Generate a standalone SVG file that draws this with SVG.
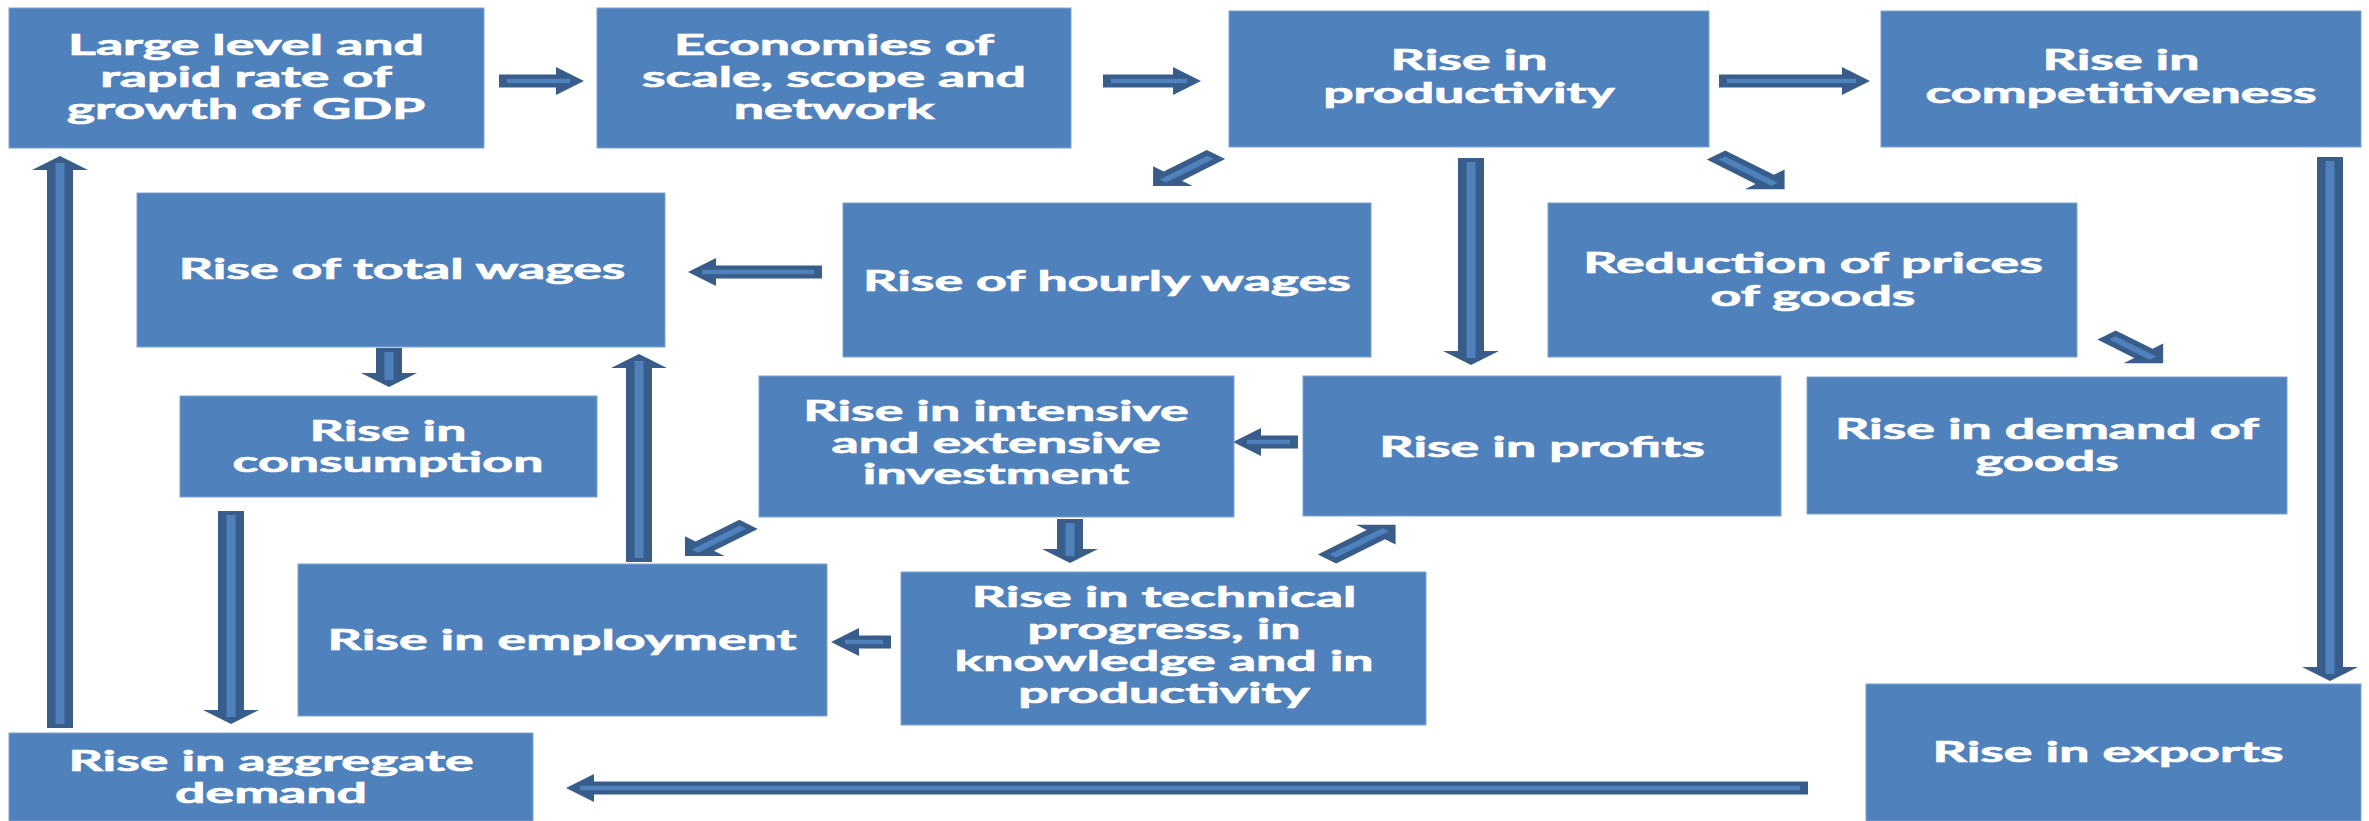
<svg xmlns="http://www.w3.org/2000/svg" width="2369" height="821" viewBox="0 0 2369 821">
<style>
.b{fill:#4F81BD;stroke:#7FA2CF;stroke-width:1}
.t{font-family:Lato,"DejaVu Sans",sans-serif;font-weight:700;font-size:29px;fill:#FFFFFF;stroke:#FFFFFF;stroke-width:0.7;text-anchor:middle}
.ad{fill:#385D8A}
.al{fill:#4F81BD}
</style>
<rect x="0" y="0" width="2369" height="821" fill="#FFFFFF"/>
<g id="connectors">
<g transform="scale(2,1) translate(249.5,81)"><polygon class="ad" points="0,-6.5 28.5,-6.5 28.5,-14 42.5,0 28.5,14 28.5,6.5 0,6.5"/><rect class="al" x="4" y="-2.25" width="31.5" height="4.5"/></g>
<g transform="scale(2,1) translate(551.5,81)"><polygon class="ad" points="0,-6.5 35,-6.5 35,-14 49,0 35,14 35,6.5 0,6.5"/><rect class="al" x="4" y="-2.25" width="38" height="4.5"/></g>
<g transform="scale(2,1) translate(859.5,81)"><polygon class="ad" points="0,-6.5 61.5,-6.5 61.5,-14 75.5,0 61.5,14 61.5,6.5 0,6.5"/><rect class="al" x="4" y="-2.25" width="64.5" height="4.5"/></g>
<g transform="scale(2,1) translate(608,154.5) rotate(135)"><polygon class="ad" points="0,-6.5 30.5,-6.5 30.5,-14 44.5,0 30.5,14 30.5,6.5 0,6.5"/><rect class="al" x="4" y="-2.25" width="33.5" height="4.5"/></g>
<g transform="scale(2,1) translate(858,155) rotate(45)"><polygon class="ad" points="0,-6.5 34.5,-6.5 34.5,-14 48.5,0 34.5,14 34.5,6.5 0,6.5"/><rect class="al" x="4" y="-2.25" width="37.5" height="4.5"/></g>
<g transform="scale(2,1) translate(735.5,158) rotate(90)"><polygon class="ad" points="0,-6.5 193,-6.5 193,-14 207,0 193,14 193,6.5 0,6.5"/><rect class="al" x="4" y="-2.25" width="196" height="4.5"/></g>
<g transform="scale(2,1) translate(1165,157) rotate(90)"><polygon class="ad" points="0,-6.5 510,-6.5 510,-14 524,0 510,14 510,6.5 0,6.5"/><rect class="al" x="4" y="-2.25" width="513" height="4.5"/></g>
<g transform="scale(2,1) translate(904,788) rotate(180)"><polygon class="ad" points="0,-6.5 607,-6.5 607,-14 621,0 607,14 607,6.5 0,6.5"/><rect class="al" x="4" y="-2.25" width="610" height="4.5"/></g>
<g transform="scale(2,1) translate(30,728) rotate(-90)"><polygon class="ad" points="0,-6.5 558,-6.5 558,-14 572,0 558,14 558,6.5 0,6.5"/><rect class="al" x="4" y="-2.25" width="561" height="4.5"/></g>
<g transform="scale(2,1) translate(115.5,511) rotate(90)"><polygon class="ad" points="0,-6.5 199,-6.5 199,-14 213,0 199,14 199,6.5 0,6.5"/><rect class="al" x="4" y="-2.25" width="202" height="4.5"/></g>
<g transform="scale(2,1) translate(411,272) rotate(180)"><polygon class="ad" points="0,-6.5 53,-6.5 53,-14 67,0 53,14 53,6.5 0,6.5"/><rect class="al" x="4" y="-2.25" width="56" height="4.5"/></g>
<g transform="scale(2,1) translate(194.5,348) rotate(90)"><polygon class="ad" points="0,-6.5 25,-6.5 25,-14 39,0 25,14 25,6.5 0,6.5"/><rect class="al" x="4" y="-2.25" width="28" height="4.5"/></g>
<g transform="scale(2,1) translate(319.5,562) rotate(-90)"><polygon class="ad" points="0,-6.5 194,-6.5 194,-14 208,0 194,14 194,6.5 0,6.5"/><rect class="al" x="4" y="-2.25" width="197" height="4.5"/></g>
<g transform="scale(2,1) translate(374.3,524.3) rotate(135)"><polygon class="ad" points="0,-6.5 31,-6.5 31,-14 45,0 31,14 31,6.5 0,6.5"/><rect class="al" x="4" y="-2.25" width="34" height="4.5"/></g>
<g transform="scale(2,1) translate(535,519) rotate(90)"><polygon class="ad" points="0,-6.5 30,-6.5 30,-14 44,0 30,14 30,6.5 0,6.5"/><rect class="al" x="4" y="-2.25" width="33" height="4.5"/></g>
<g transform="scale(2,1) translate(663.5,559) rotate(-45)"><polygon class="ad" points="0,-6.5 34.5,-6.5 34.5,-14 48.5,0 34.5,14 34.5,6.5 0,6.5"/><rect class="al" x="4" y="-2.25" width="37.5" height="4.5"/></g>
<g transform="scale(2,1) translate(649,442) rotate(180)"><polygon class="ad" points="0,-6.5 18.5,-6.5 18.5,-14 32.5,0 18.5,14 18.5,6.5 0,6.5"/><rect class="al" x="4" y="-2.25" width="21.5" height="4.5"/></g>
<g transform="scale(2,1) translate(445.5,642) rotate(180)"><polygon class="ad" points="0,-6.5 16,-6.5 16,-14 30,0 16,14 16,6.5 0,6.5"/><rect class="al" x="4" y="-2.25" width="19" height="4.5"/></g>
<g transform="scale(2,1) translate(1053.3,335) rotate(45)"><polygon class="ad" points="0,-6.5 26,-6.5 26,-14 40,0 26,14 26,6.5 0,6.5"/><rect class="al" x="4" y="-2.25" width="29" height="4.5"/></g>
</g>
<g id="n1"><rect class="b" x="9" y="8" width="475" height="140"/><text class="t" transform="translate(246 0) scale(1.85 1)"><tspan x="0" y="55">Large level and</tspan><tspan x="0" y="87">rapid rate of</tspan><tspan x="0" y="119">growth of GDP</tspan></text></g>
<g id="n2"><rect class="b" x="597" y="8" width="474" height="140"/><text class="t" transform="translate(834 0) scale(1.85 1)"><tspan x="0" y="55">Economies of</tspan><tspan x="0" y="87">scale, scope and</tspan><tspan x="0" y="119">network</tspan></text></g>
<g id="n3"><rect class="b" x="1229" y="11" width="480" height="136"/><text class="t" transform="translate(1469 0) scale(1.85 1)"><tspan x="0" y="70">Rise in</tspan><tspan x="0" y="103">productivity</tspan></text></g>
<g id="n4"><rect class="b" x="1881" y="11" width="480" height="136"/><text class="t" transform="translate(2121 0) scale(1.85 1)"><tspan x="0" y="70">Rise in</tspan><tspan x="0" y="103">competitiveness</tspan></text></g>
<g id="n5"><rect class="b" x="137" y="193" width="528" height="154"/><text class="t" transform="translate(402 0) scale(1.85 1)"><tspan x="0" y="279">Rise of total wages</tspan></text></g>
<g id="n6"><rect class="b" x="843" y="203" width="528" height="154"/><text class="t" transform="translate(1107 0) scale(1.85 1)"><tspan x="0" y="291">Rise of hourly wages</tspan></text></g>
<g id="n7"><rect class="b" x="1548" y="203" width="529" height="154"/><text class="t" transform="translate(1813 0) scale(1.85 1)"><tspan x="0" y="273">Reduction of prices</tspan><tspan x="0" y="306">of goods</tspan></text></g>
<g id="n8"><rect class="b" x="180" y="396" width="417" height="101"/><text class="t" transform="translate(388 0) scale(1.85 1)"><tspan x="0" y="441">Rise in</tspan><tspan x="0" y="472">consumption</tspan></text></g>
<g id="n9"><rect class="b" x="759" y="376" width="475" height="141"/><text class="t" transform="translate(996 0) scale(1.85 1)"><tspan x="0" y="421">Rise in intensive</tspan><tspan x="0" y="453">and extensive</tspan><tspan x="0" y="484">investment</tspan></text></g>
<g id="n10"><rect class="b" x="1303" y="376" width="478" height="140"/><text class="t" transform="translate(1542 0) scale(1.85 1)"><tspan x="0" y="457">Rise in profits</tspan></text></g>
<g id="n11"><rect class="b" x="1807" y="377" width="480" height="137"/><text class="t" transform="translate(2047 0) scale(1.85 1)"><tspan x="0" y="439">Rise in demand of</tspan><tspan x="0" y="471">goods</tspan></text></g>
<g id="n12"><rect class="b" x="298" y="564" width="529" height="152"/><text class="t" transform="translate(562 0) scale(1.85 1)"><tspan x="0" y="650">Rise in employment</tspan></text></g>
<g id="n13"><rect class="b" x="901" y="572" width="525" height="153"/><text class="t" transform="translate(1164 0) scale(1.85 1)"><tspan x="0" y="607">Rise in technical</tspan><tspan x="0" y="639">progress, in</tspan><tspan x="0" y="671">knowledge and in</tspan><tspan x="0" y="703">productivity</tspan></text></g>
<g id="n14"><rect class="b" x="1866" y="684" width="495" height="137"/><text class="t" transform="translate(2108 0) scale(1.85 1)"><tspan x="0" y="762">Rise in exports</tspan></text></g>
<g id="n15"><rect class="b" x="9" y="733" width="524" height="88"/><text class="t" transform="translate(271 0) scale(1.85 1)"><tspan x="0" y="771">Rise in aggregate</tspan><tspan x="0" y="803">demand</tspan></text></g>
</svg>
